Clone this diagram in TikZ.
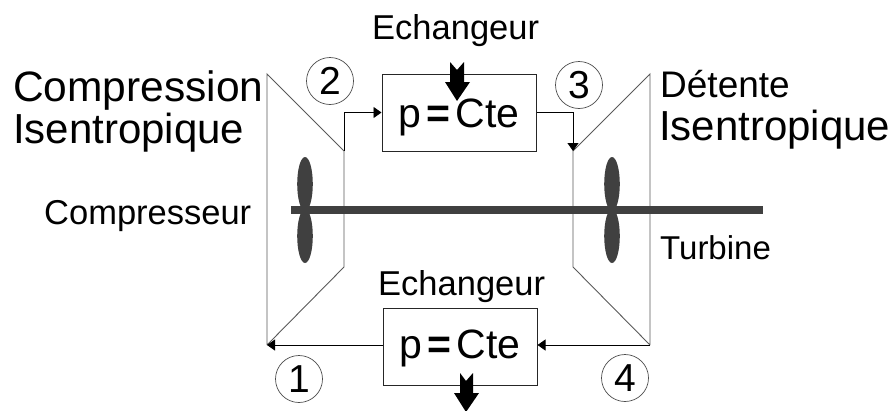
\documentclass[tikz,border=0pt]{standalone}
\usepackage{fontspec}
\setmainfont{Liberation Sans}
\usetikzlibrary{arrows.meta}
\newcommand{\pcte}{p\kern5pt\textbf{=}\kern5ptCte}
\begin{document}
\begin{tikzpicture}[x=1pt,y=-1pt,
  lbl/.style={inner sep=0pt,anchor=base west,font=\fontsize{#1}{#1}\selectfont},
  lbl/.default=34,
  box/.style={draw=black!85,line width=1pt,text width=154pt,align=center,inner sep=0pt,font=\fontsize{41}{41}\selectfont},
  num/.style={circle,draw=black!70,line width=0.7pt,minimum size=47pt,inner sep=0pt,font=\fontsize{39}{39}\selectfont},
  flow/.style={draw=black,line width=0.9pt,-{Triangle[length=8pt,width=11pt]}},
  casing/.style={draw=black!65,line width=0.9pt},
  blade/.style={fill=black!75},
  heat/.style={fill=black}]
\useasboundingbox (0,0) rectangle (893,410);
\begin{scope}
\clip (0,0) rectangle (893,410);
% casings
\coordinate (c1) at (267,345); \coordinate (ctl) at (267,74);
\coordinate (c2) at (344,151); \coordinate (cbr) at (344,267);
\coordinate (t3) at (573,151); \coordinate (tbl) at (573,267);
\coordinate (t4) at (650,345); \coordinate (ttr) at (650,74);
\draw[casing] (c1) -- (ctl) -- (c2) -- (cbr) -- (c1);
\draw[casing] (t4) -- (ttr) -- (t3) -- (tbl) -- (t4);
% blades and shaft
\foreach \x in {305,612}{
  \fill[blade] (\x,184) ellipse [x radius=7.8,y radius=27];
  \fill[blade] (\x,236) ellipse [x radius=7.8,y radius=27];
}
\fill[black!75] (291,206) rectangle (763,214);
% boxes
\node[box,text height=53pt,text depth=24pt] (hot) at (459,112.5) {\pcte};
\node[box,text height=50pt,text depth=27pt] (cold) at (460,346.5) {\pcte};
% connectors
\draw[flow] (c2) |- (hot.west);
\draw[flow] (hot.east) -| (t3);
\draw[flow] (t4) -- (t4 -| cold.east);
\draw[flow] (c1 -| cold.west) -- (c1);
% heat arrows
\path[heat] (450,62) -- (457,70) -- (464,62) -- (464,82) -- (470,82) -- (457,101) -- (445,82) -- (450,82) -- cycle;
\path[heat] (460,373) -- (466,381) -- (473,373) -- (473,393) -- (479,393) -- (466,412) -- (454,393) -- (460,393) -- cycle;
\end{scope}
% numbers
\node[num] (n2) at (330,81) {2};
\node[num] (n3) at (579,85) {3};
\node[num] (n1) at (299,379) {1};
\node[num] (n4) at (625,378) {4};
% labels
\node[lbl=42.5] (a) at (13,101) {Compression};
\node[lbl=42] (b) at (13,143) {Isentropique};
\node[lbl=37] (c) at (660,97) {Détente};
\node[lbl=42] (d) at (659,140) {Isentropique};
\node[lbl=34.5] (e) at (44,224) {Compresseur};
\node[lbl=33] (f) at (660,259) {Turbine};
\node[lbl=34.5] (g) at (372,39) {Echangeur};
\node[lbl=34.5] (h) at (378,295) {Echangeur};
\end{tikzpicture}
\end{document}
